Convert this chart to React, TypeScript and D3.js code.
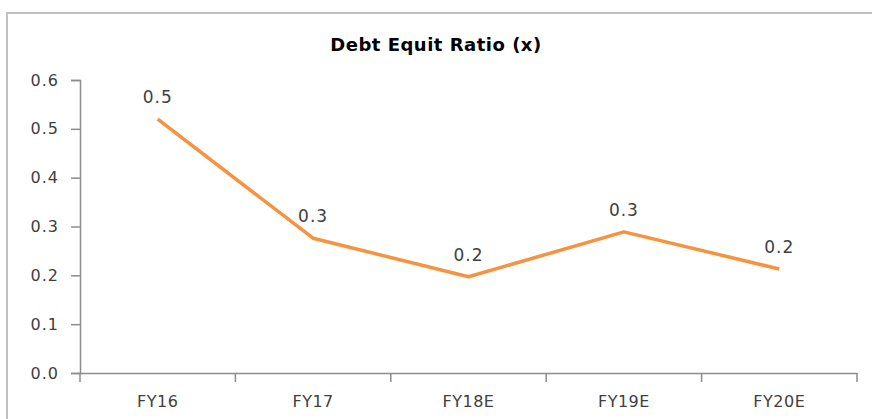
import React, { useEffect, useRef } from 'react';
import * as d3 from 'd3';

const categories = ['FY16', 'FY17', 'FY18E', 'FY19E', 'FY20E'];
const ratios = [0.52, 0.276, 0.197, 0.289, 0.213];
const yTicks = [0, 0.1, 0.2, 0.3, 0.4, 0.5, 0.6];

const W = 872;
const H = 419;
const FONT = "'DejaVu Sans', sans-serif";

const App: React.FC = () => {
  const ref = useRef<SVGSVGElement | null>(null);

  useEffect(() => {
    if (!ref.current) return;
    const svg = d3.select(ref.current);
    svg.selectAll('*').remove();

    const left = 80;
    const right = 857;
    const top = 80;
    const bottom = 373;

    // chart frame
    svg.append('rect')
      .attr('x', 7).attr('y', 13)
      .attr('width', W + 20).attr('height', H + 20)
      .attr('fill', '#fff')
      .attr('stroke', '#c0c0c0')
      .attr('stroke-width', 2);

    svg.append('text')
      .attr('x', 436).attr('y', 51)
      .attr('text-anchor', 'middle')
      .attr('font-family', FONT)
      .attr('font-size', 18)
      .attr('font-weight', 'bold')
      .attr('letter-spacing', 0.5)
      .attr('fill', '#000')
      .text('Debt Equit Ratio (x)');

    const x = d3.scaleBand<string>().domain(categories).range([left, right]);
    const y = d3.scaleLinear().domain([0, 0.6]).range([bottom, top]);

    // y axis
    const yAxis = svg.append('g')
      .attr('transform', `translate(${left},0)`)
      .call(d3.axisLeft(y).tickValues(yTicks).tickFormat(d3.format('.1f')).tickSize(9).tickPadding(12));
    yAxis.select('.domain').attr('stroke', '#8c8c8c').attr('stroke-width', 1.5);
    yAxis.selectAll('line').attr('stroke', '#8c8c8c').attr('stroke-width', 1.5);
    yAxis.selectAll('text')
      .attr('font-family', FONT)
      .attr('font-size', 16)
      .attr('letter-spacing', 1)
      .attr('fill', '#404040');

    // x axis with ticks at band edges
    const xAxis = svg.append('g')
      .attr('transform', `translate(0,${bottom})`)
      .call(d3.axisBottom(x).tickSize(0).tickPadding(23));
    xAxis.select('.domain').attr('stroke', '#8c8c8c').attr('stroke-width', 1.5);
    xAxis.selectAll('text')
      .attr('font-family', FONT)
      .attr('font-size', 16)
      .attr('letter-spacing', 0.5)
      .attr('fill', '#404040');
    const edges = categories.map((c) => x(c) as number).concat([right]);
    xAxis.selectAll('line.edge')
      .data(edges)
      .enter()
      .append('line')
      .attr('class', 'edge')
      .attr('x1', (d) => d).attr('x2', (d) => d)
      .attr('y1', 0).attr('y2', 9)
      .attr('stroke', '#8c8c8c')
      .attr('stroke-width', 1.5);

    const cx = (i: number) => (x(categories[i]) as number) + x.bandwidth() / 2;

    const line = d3.line<number>()
      .x((_, i) => cx(i))
      .y((d) => y(d));

    svg.append('path')
      .datum(ratios)
      .attr('d', line)
      .attr('fill', 'none')
      .attr('stroke', '#f7923e')
      .attr('stroke-width', 3.5)
      .attr('stroke-linejoin', 'round');

    svg.selectAll('text.val')
      .data(ratios)
      .enter()
      .append('text')
      .attr('class', 'val')
      .attr('x', (_, i) => cx(i))
      .attr('y', (d) => y(d) - 16)
      .attr('text-anchor', 'middle')
      .attr('font-family', FONT)
      .attr('font-size', 17)
      .attr('letter-spacing', 1)
      .attr('fill', '#404040')
      .text((d) => d3.format('.1f')(d));
  }, []);

  return <svg ref={ref} width={W} height={H} style={{ display: 'block', position: 'absolute', left: 0, top: 0 }} />;
};

export default App;
